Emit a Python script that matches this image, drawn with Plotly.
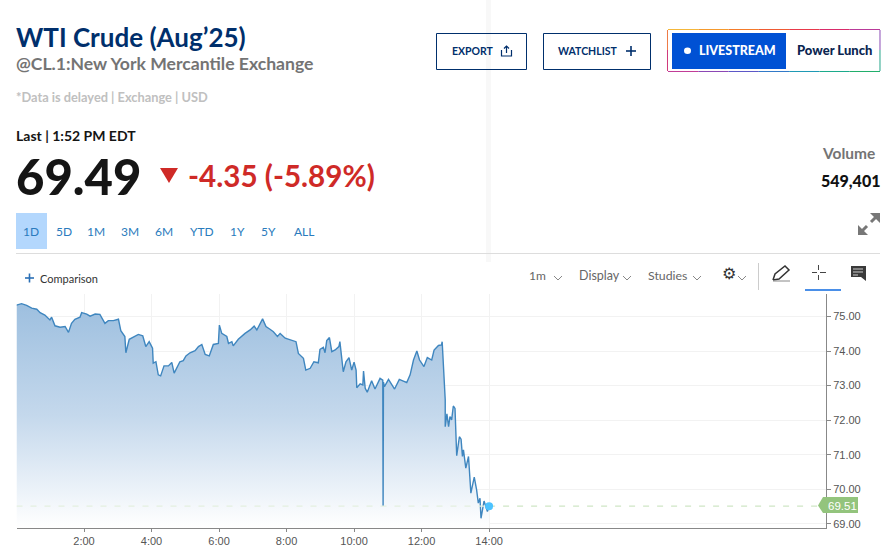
import plotly.graph_objects as go

# ---- data ----
hours = [0.00,0.15,0.30,0.45,0.60,0.70,0.84,0.99,1.04,1.14,1.29,1.44,1.54,1.63,1.73,1.88,1.93,2.08,2.18,2.33,2.47,2.62,2.72,2.87,3.02,3.09,3.21,3.24,3.34,3.51,3.61,3.74,3.83,3.93,4.03,4.05,4.13,4.20,4.27,4.37,4.50,4.60,4.67,4.84,4.94,5.02,5.14,5.29,5.39,5.49,5.59,5.71,5.83,5.98,6.01,6.08,6.23,6.28,6.38,6.42,6.57,6.77,6.92,7.04,7.12,7.29,7.39,7.51,7.61,7.73,7.81,7.96,8.10,8.28,8.35,8.50,8.57,8.70,8.81,8.94,8.99,9.09,9.14,9.19,9.27,9.34,9.44,9.55,9.58,9.66,9.68,9.76,9.85,9.93,10.00,10.06,10.08,10.18,10.26,10.28,10.33,10.39,10.52,10.62,10.77,10.85,10.86,10.87,10.90,11.02,11.20,11.34,11.46,11.56,11.66,11.76,11.86,11.94,12.07,12.17,12.30,12.37,12.50,12.59,12.61,12.65,12.70,12.70,12.75,12.80,12.84,12.89,12.94,12.99,13.04,13.12,13.17,13.21,13.24,13.31,13.39,13.46,13.56,13.63,13.68,13.73,13.76,13.85,13.95,14.00]
prices = [75.33,75.37,75.32,75.24,75.21,75.11,75.04,74.90,74.98,74.73,74.69,74.71,74.54,74.80,74.92,74.98,75.11,75.07,75.01,75.07,75.06,74.80,74.88,74.88,74.92,74.59,74.42,73.95,74.34,74.42,74.48,74.44,74.13,74.27,74.08,73.65,73.69,73.31,73.28,73.57,73.57,73.67,73.36,73.69,73.72,73.86,73.95,74.01,74.13,74.19,73.90,73.86,74.19,74.22,74.75,74.51,74.42,74.22,74.27,74.15,74.34,74.51,74.61,74.72,74.61,74.93,74.71,74.63,74.56,74.42,74.51,74.37,74.32,74.27,73.93,73.79,73.45,73.50,73.69,73.66,74.05,74.11,73.95,74.30,74.39,73.98,74.03,74.13,74.27,73.69,73.40,73.69,73.81,73.45,73.68,73.45,72.94,73.05,73.02,73.42,72.92,72.81,73.14,72.90,73.21,73.16,69.52,73.10,72.97,73.18,72.90,73.18,73.13,73.09,73.31,73.74,74.00,73.74,73.55,73.81,73.74,74.03,74.16,74.18,74.27,73.36,72.59,71.81,72.18,71.81,72.10,72.01,72.41,72.34,70.97,71.52,71.45,70.95,71.14,70.61,70.95,69.89,70.35,69.98,69.60,69.74,69.16,69.66,69.36,69.51]
last_hour = 14.0
last_price = 69.51
x_ticks = [2, 4, 6, 8, 10, 12, 14]
x_labels = ["2:00", "4:00", "6:00", "8:00", "10:00", "12:00", "14:00"]
y_ticks = [69, 70, 71, 72, 73, 74, 75]
y_labels = ["69.00", "70.00", "71.00", "72.00", "73.00", "74.00", "75.00"]
range_labels = ["1D", "5D", "1M", "3M", "6M", "YTD", "1Y", "5Y", "ALL"]

W, H = 893, 553
def X(p): return p / W
def Y(p): return 1 - p / H

SANS = "Lato"
NAVY = "#002f6c"
shapes, notes = [], []

def text(x, y, s, size, color, anchor="left", bold=False, family=SANS, weight=None):
    notes.append(dict(x=X(x), y=Y(y), xref="paper", yref="paper", text=s, showarrow=False,
                      xanchor=anchor, yanchor="middle", borderpad=0,
                      font=dict(family=family, size=size, color=color, weight=weight or (700 if bold else 400))))

def rect(x0, y0, x1, y1, fill=None, line=None, lw=1):
    shapes.append(dict(type="rect", xref="paper", yref="paper", x0=X(x0), x1=X(x1), y0=Y(y0), y1=Y(y1),
                       fillcolor=fill or "rgba(0,0,0,0)",
                       line=dict(color=line or "rgba(0,0,0,0)", width=lw if line else 0)))

def path(pts, color=None, lw=1, fill=None, close=False):
    d = "M " + " L ".join(f"{X(a):.5f},{Y(b):.5f}" for a, b in pts) + (" Z" if close else "")
    shapes.append(dict(type="path", xref="paper", yref="paper", path=d,
                       fillcolor=fill or "rgba(0,0,0,0)",
                       line=dict(color=color or "rgba(0,0,0,0)", width=lw if color else 0)))

def chevron(x, y, c="#888888"):
    path([(x - 4, y - 2), (x, y + 2), (x + 4, y - 2)], color=c, lw=1)

# ---- header ----
text(15, 37, "WTI Crude (Aug\u201925)", 26, NAVY, bold=True)
text(15, 64, "@CL.1:New York Mercantile Exchange", 17.6, "#747474", bold=True)
text(15, 97, "*Data is delayed | Exchange | USD", 12.8, "#c0c0c0", bold=True)
text(15, 136, "Last | 1:52 PM EDT", 14, "#151515", bold=True)
text(15, 176, "69.49", 49, "#151515", weight=900)
path([(160, 168), (178, 168), (169, 183)], fill="#cf2a27", close=True)
text(187, 176, "-4.35 (-5.89%)", 29.6, "#cf2a27", bold=True)
text(876, 152.5, "Volume", 15.5, "#747474", anchor="right", bold=True)
text(881, 181, "549,401", 16, "#111111", anchor="right", weight=900)

# shaded edge of the menu behind the page
rect(486, 0, 491, 262, fill="#f8f8f8")

# buttons
rect(436.5, 33.5, 526.5, 69.5, line=NAVY, lw=1)
text(451, 51, "EXPORT", 10.5, NAVY, bold=True)
path([(501.5, 50), (501.5, 56), (511.5, 56), (511.5, 50)], color=NAVY, lw=1.2)
path([(506.5, 53), (506.5, 46)], color=NAVY, lw=1.2)
path([(504, 48.5), (506.5, 46), (509, 48.5)], color=NAVY, lw=1.2)
rect(543.5, 33.5, 650.5, 69.5, line=NAVY, lw=1)
text(557, 51, "WATCHLIST", 10.5, NAVY, bold=True)
path([(626, 51), (636, 51)], color=NAVY, lw=1.6)
path([(631, 46), (631, 56)], color=NAVY, lw=1.6)

# live stream box with a rainbow outline
top = ["#f4b73a", "#f59a2d", "#f47b2a", "#ef5a33", "#e8394a", "#d92b6a", "#b93a9a"]
bot = ["#c13a96", "#8a45b5", "#5b55c7", "#2f78c8", "#1c98b5", "#19a98a", "#1fae6a"]
seg = (880 - 668) / 7
for i in range(7):
    path([(668 + i * seg, 29.5), (668 + (i + 1) * seg, 29.5)], color=top[i], lw=1)
    path([(668 + i * seg, 71.5), (668 + (i + 1) * seg, 71.5)], color=bot[i], lw=1)
path([(667.5, 30), (667.5, 50)], color="#ee7a45", lw=1)
path([(667.5, 50), (667.5, 71)], color="#d0387a", lw=1)
path([(880, 30), (880, 50)], color="#8a4ab5", lw=1)
path([(880, 50), (880, 71)], color="#25a58a", lw=1)
rect(672, 33, 786, 69, fill="#0051d4")
shapes.append(dict(type="circle", xref="paper", yref="paper", x0=X(684), x1=X(691), y0=Y(54), y1=Y(47.5),
                   fillcolor="white", line=dict(width=0)))
text(697.5, 50.5, "LIVESTREAM", 12.5, "white", weight=900)
text(795.5, 50, "Power Lunch", 13, "#0a2550", weight=900)

# expand icon
G = "#777777"
path([(880, 213), (870, 213), (880, 223)], fill=G, close=True)
path([(858, 235), (858, 225), (868, 235)], fill=G, close=True)
path([(862, 231), (867, 226)], color=G, lw=3)
path([(871, 222), (876, 217)], color=G, lw=3)

# range tabs
rect(16, 213, 47, 249, fill="#b3d7fd")
tab_x = [31.5, 64, 96, 129.5, 164, 202, 237, 268, 303.5]
for xx, s in zip(tab_x, range_labels):
    text(xx, 231, s, 12, "#2a7bbd", anchor="center")
path([(16, 253.5), (880, 253.5)], color="#dddddd", lw=1)

# toolbar
path([(25, 278), (34, 278)], color="#2a6fb5", lw=1.6)
path([(29.5, 273.5), (29.5, 282.5)], color="#2a6fb5", lw=1.6)
text(39, 278, "Comparison", 11, "#333333")
text(527.5, 275, "1m", 12, "#666666")
chevron(558, 278)
text(577.5, 275, "Display", 12.5, "#666666")
chevron(627, 278)
text(646.5, 275, "Studies", 12.3, "#666666")
chevron(697, 278)
text(729, 273, "\u2699", 16, "#333333", anchor="center", family="DejaVu Sans")
chevron(742, 278)
path([(758.5, 263), (758.5, 290)], color="#cccccc", lw=1)
path([(773, 280), (775, 274), (785, 266), (789, 270), (779, 279), (773, 280)], color="#333333", lw=1.5)
path([(773, 281), (790, 281)], color="#888888", lw=1)
for a, b in [((812, 272.5), (817, 272.5)), ((820, 272.5), (826, 272.5)), ((818.5, 265), (818.5, 270)), ((818.5, 275), (818.5, 280))]:
    path([a, b], color="#444444", lw=1)
rect(805, 289, 841, 291, fill="#4a8fe8")
path([(851, 266), (866, 266), (866, 281), (861, 277), (851, 277)], fill="#3a3a3a", close=True)
for yy, x1 in [(269, 863), (272, 863), (275, 858)]:
    path([(853, yy), (x1, yy)], color="#cccccc", lw=1)

# ---- price label ----
path([(818, 505.5), (823, 497), (858, 497), (858, 513), (823, 513)], fill="#93c47d", close=True)
text(842, 505.5, f"{last_price:.2f}", 11.5, "white", anchor="center", family="Liberation Sans")

fig = go.Figure()
fig.add_trace(go.Scatter(
    x=hours, y=prices, mode="lines", line=dict(color="#3f86bf", width=1.4), fill="tozeroy",
    fillgradient=dict(type="vertical", start=75.4, stop=68.9,
                      colorscale=[[0, "#9dbfdf"], [0.5, "#c4d8ec"], [1, "#ffffff"]]),
    hoverinfo="skip", showlegend=False))
fig.add_trace(go.Scatter(x=[0, last_hour], y=[last_price, last_price], mode="lines",
                         line=dict(color="#e3efe0", width=1.2, dash="6px,8px"), showlegend=False))
fig.add_trace(go.Scatter(x=[last_hour, 23.98], y=[last_price, last_price], mode="lines",
                         line=dict(color="#cfe6c5", width=1.2, dash="6px,8px"), showlegend=False))
fig.add_trace(go.Scatter(x=[last_hour], y=[last_price], mode="markers",
                         marker=dict(color="#4dc3ff", size=8), showlegend=False))

fig.update_layout(
    width=W, height=H, margin=dict(l=0, r=0, t=0, b=0, autoexpand=False), paper_bgcolor="white", plot_bgcolor="white",
    shapes=shapes, annotations=notes, showlegend=False,
    xaxis=dict(domain=[X(16.5), X(826)], range=[0, 23.98], tickmode="array", tickvals=x_ticks, ticktext=x_labels,
               automargin=False, ticks="outside", ticklen=3, tickcolor="#888888", showline=True, linecolor="#888888", linewidth=1,
               gridcolor="#f2f2f2", gridwidth=1, zeroline=False,
               tickfont=dict(family="Liberation Sans", size=11, color="#555555")),
    yaxis=dict(domain=[Y(528), Y(294)], range=[68.88, 75.65], side="right", tickmode="array", tickvals=y_ticks,
               automargin=False, ticktext=y_labels, ticks="outside", ticklen=4, tickcolor="#888888", showline=True,
               linecolor="#888888", linewidth=1, gridcolor="#f2f2f2", gridwidth=1, zeroline=False,
               tickfont=dict(family="Liberation Sans", size=11, color="#555555")),
)
fig.write_html("out.html", config={"displayModeBar": False},
               post_script="document.body.style.margin='0';")
